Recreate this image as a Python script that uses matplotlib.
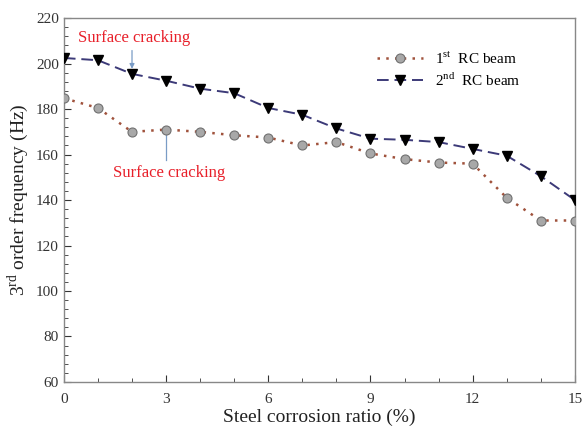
import matplotlib
matplotlib.use("Agg")
import matplotlib.pyplot as plt
from matplotlib.ticker import MultipleLocator

# corrosion ratio (%) and 3rd order frequency (Hz)
ratio = list(range(16))
beam1 = [184.8, 180.5, 170.0, 171.0, 170.0, 168.5, 167.5, 164.0,
         165.5, 160.5, 158.0, 156.5, 156.0, 141.0, 131.0, 131.0]
beam2 = [202.5, 201.5, 195.5, 192.5, 189.0, 187.0, 180.5, 177.5,
         171.5, 167.0, 166.5, 165.5, 162.5, 159.5, 150.5, 140.0]

plt.rcParams['font.family'] = ['Liberation Serif', 'DejaVu Serif']
plt.rcParams['mathtext.fontset'] = 'custom'
plt.rcParams['mathtext.rm'] = 'Liberation Serif'

fig = plt.figure(figsize=(5.86, 4.33), dpi=100)
ax = fig.add_axes([0.109, 0.118, 0.872, 0.840])

ax.plot(ratio, beam1, linestyle=(0, (1, 2.5)), color='#a0523c', linewidth=1.8,
        marker='o', markersize=6.5, markerfacecolor='#a8a8a8',
        markeredgecolor='#707070', markeredgewidth=0.8,
        label=r'1$^{\rm st}$  RC beam', zorder=3)
ax.plot(ratio, beam2, linestyle=(0, (6, 3)), color='#3c3a78', linewidth=1.4,
        marker='v', markersize=7, markerfacecolor='black',
        markeredgecolor='black', label=r'2$^{\rm nd}$  RC beam', zorder=3)

# crack annotations
ax.annotate('', xy=(2, 196.5), xytext=(2, 207),
            arrowprops=dict(arrowstyle='-|>', color='#7a9cc6', lw=0.9,
                            mutation_scale=7))
ax.text(2.05, 211.5, 'Surface cracking', color='#e8202a', fontsize=12,
        ha='center', va='center')
ax.plot([3, 3], [170.2, 157.5], color='#7a9cc6', linewidth=0.9)
ax.text(3.1, 152, 'Surface cracking', color='#e8202a', fontsize=12,
        ha='center', va='center')

ax.set_xlim(0, 15)
ax.set_ylim(60, 220)
ax.xaxis.set_major_locator(MultipleLocator(3))
ax.xaxis.set_minor_locator(MultipleLocator(1))
ax.yaxis.set_major_locator(MultipleLocator(20))
ax.yaxis.set_minor_locator(MultipleLocator(4))
ax.tick_params(which='both', direction='in', colors='#333333', labelsize=11,
               top=False, right=False)
ax.tick_params(which='major', length=5)
ax.tick_params(which='minor', length=3)
ax.tick_params(axis='x', pad=8)
for s in ax.spines.values():
    s.set_color('#888888')
    s.set_linewidth(1.0)

ax.set_xlabel('Steel corrosion ratio (%)', fontsize=14, color='#222222',
              labelpad=2)
ax.set_ylabel(r'3$^{\rm rd}$ order frequency (Hz)', fontsize=14, color='#222222')

leg = ax.legend(loc='upper right', bbox_to_anchor=(0.92, 0.95), frameon=False,
                fontsize=11, handlelength=3, labelspacing=0.3)

fig.savefig('out.png', dpi=100)
